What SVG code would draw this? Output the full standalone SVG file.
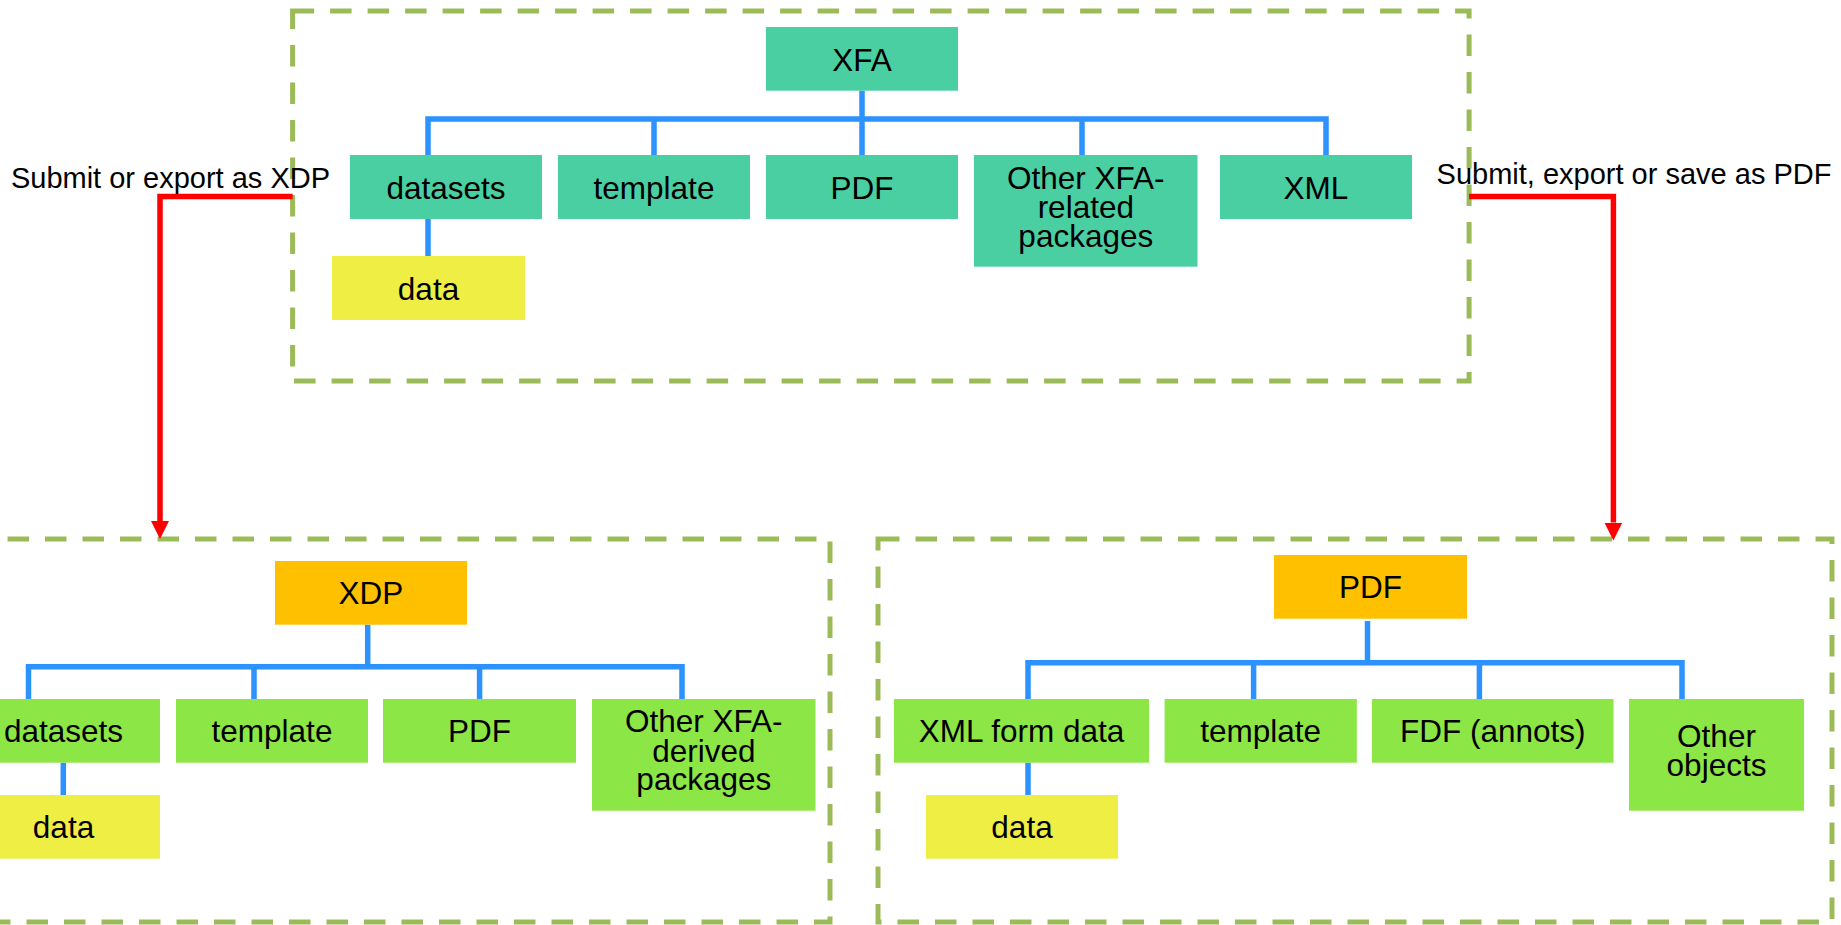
<svg xmlns="http://www.w3.org/2000/svg" width="1841" height="925" viewBox="0 0 1841 925">
<style>
text{font-family:"Liberation Sans",Arial,sans-serif;fill:#000;text-anchor:middle}
.lbl{font-size:31.5px}
.edge{font-size:29px}
.teal{fill:#4ACFA3}
.yel{fill:#EEEE44}
.grn{fill:#8CE646}
.org{fill:#FFC000}
.frame{fill:none;stroke:#9BBB59;stroke-width:5;stroke-dasharray:21.5 16}
.blue{fill:none;stroke:#2C92FF;stroke-width:5.5}
.red{fill:none;stroke:#FF0000;stroke-width:5.5}
</style>
<defs>
<marker id="ah" markerUnits="userSpaceOnUse" markerWidth="18" markerHeight="18" refX="0" refY="9" orient="auto" viewBox="0 0 18 18">
<path d="M0,0 L18,9 L0,18 Z" fill="#FF0000"/>
</marker>
</defs>
<rect width="1841" height="925" fill="#FFFFFF"/>
<g id="frames">
<rect class="frame" x="292.6" y="11" width="1176.5" height="370"/>
<rect class="frame" x="-30" y="539" width="860" height="383"/>
<rect class="frame" x="878" y="539" width="954" height="383"/>
</g>
<g id="connectors">
<path class="blue" d="M862,90.7 V119"/>
<path class="blue" d="M428,155 V119 H1326 V155"/>
<path class="blue" d="M654,119 V155 M862,119 V155 M1082,119 V155"/>
<path class="blue" d="M428,219 V256"/>
<path class="blue" d="M367.7,624.7 V666.7"/>
<path class="blue" d="M28.5,699 V666.7 H682 V699"/>
<path class="blue" d="M254,666.7 V699 M479.6,666.7 V699"/>
<path class="blue" d="M63.3,762.7 V795"/>
<path class="blue" d="M1367.5,621 V662.7"/>
<path class="blue" d="M1028,699 V662.7 H1682 V699"/>
<path class="blue" d="M1253.6,662.7 V699 M1479.4,662.7 V699"/>
<path class="blue" d="M1028,762.7 V795"/>
<path class="red" d="M292.6,196.5 H160 V521" marker-end="url(#ah)"/>
<path class="red" d="M1469,196.5 H1613.4 V522.5" marker-end="url(#ah)"/>
<text class="edge" x="170.5" y="188">Submit or export as XDP</text>
<text class="edge" x="1634" y="183.5">Submit, export or save as PDF</text>
</g>
<g id="n-xfa"><rect class="teal" x="766" y="27" width="192" height="63.7"/><text class="lbl" x="862" y="70.5">XFA</text></g>
<g id="n-datasets1"><rect class="teal" x="350" y="155" width="192" height="64"/><text class="lbl" x="446" y="198.5">datasets</text></g>
<g id="n-template1"><rect class="teal" x="558" y="155" width="192" height="64"/><text class="lbl" x="654" y="198.5">template</text></g>
<g id="n-pdf1"><rect class="teal" x="766" y="155" width="192" height="64"/><text class="lbl" x="862" y="198.5">PDF</text></g>
<g id="n-other1"><rect class="teal" x="974" y="155" width="223.5" height="111.7"/><text class="lbl" x="1085.8" y="188.5">Other XFA-</text><text class="lbl" x="1085.8" y="218">related</text><text class="lbl" x="1085.8" y="247">packages</text></g>
<g id="n-xml1"><rect class="teal" x="1220" y="155" width="192" height="64"/><text class="lbl" x="1316" y="198.5">XML</text></g>
<g id="n-data1"><rect class="yel" x="332" y="256" width="193" height="64"/><text class="lbl" x="428.5" y="299.5">data</text></g>
<g id="n-xdp"><rect class="org" x="275" y="561" width="192" height="63.7"/><text class="lbl" x="371" y="604.3">XDP</text></g>
<g id="n-datasets2"><rect class="grn" x="-33" y="699" width="193" height="63.7"/><text class="lbl" x="63.5" y="742.3">datasets</text></g>
<g id="n-template2"><rect class="grn" x="176" y="699" width="192" height="63.7"/><text class="lbl" x="272" y="742.3">template</text></g>
<g id="n-pdf2"><rect class="grn" x="383" y="699" width="193" height="63.7"/><text class="lbl" x="479.5" y="742.3">PDF</text></g>
<g id="n-other2"><rect class="grn" x="592" y="699" width="223.5" height="111.7"/><text class="lbl" x="703.8" y="731.7">Other XFA-</text><text class="lbl" x="703.8" y="761.5">derived</text><text class="lbl" x="703.8" y="790">packages</text></g>
<g id="n-data2"><rect class="yel" x="-33" y="795" width="193" height="63.7"/><text class="lbl" x="63.5" y="838.3">data</text></g>
<g id="n-pdf3"><rect class="org" x="1274" y="555" width="193" height="63.7"/><text class="lbl" x="1370.5" y="598.3">PDF</text></g>
<g id="n-xmlform"><rect class="grn" x="894" y="699" width="255" height="63.7"/><text class="lbl" x="1021.5" y="742.3">XML form data</text></g>
<g id="n-template3"><rect class="grn" x="1164.6" y="699" width="192.2" height="63.7"/><text class="lbl" x="1260.7" y="742.3">template</text></g>
<g id="n-fdf"><rect class="grn" x="1372" y="699" width="241.5" height="63.7"/><text class="lbl" x="1492.7" y="742.3">FDF (annots)</text></g>
<g id="n-otherobj"><rect class="grn" x="1629" y="699" width="175" height="111.7"/><text class="lbl" x="1716.5" y="747.3">Other</text><text class="lbl" x="1716.5" y="775.7">objects</text></g>
<g id="n-data3"><rect class="yel" x="926" y="795" width="192" height="63.7"/><text class="lbl" x="1022" y="838.3">data</text></g>
</svg>
